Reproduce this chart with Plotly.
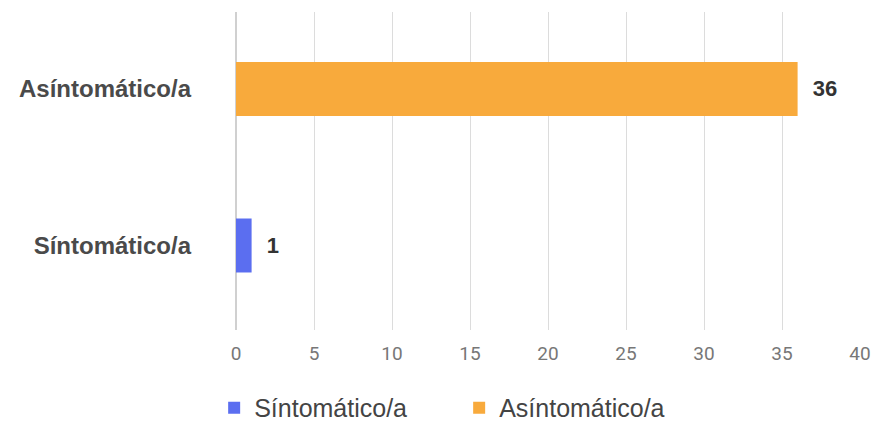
import plotly.graph_objects as go

categories = ["Síntomático/a", "Asíntomático/a"]
series_names = ["Síntomático/a", "Asíntomático/a"]
values = [1, 36]
colors = ["#5b6ef0", "#f8aa3c"]
tick_vals = [0, 5, 10, 15, 20, 25, 30, 35, 40]

fig = go.Figure()
for i, name in enumerate(series_names):
    fig.add_trace(go.Bar(
        y=[categories[i]], x=[values[i]], name=name, orientation="h",
        marker=dict(color=colors[i], line=dict(width=0)),
        text=[str(values[i])], texttemplate="  %{text}", textposition="outside",
        textfont=dict(family="Arial", size=22, color="#333333", weight="bold"),
        cliponaxis=False,
    ))

fig.update_layout(
    width=879, height=422,
    margin=dict(l=236, r=19, t=12, b=92, autoexpand=False),
    paper_bgcolor="white", plot_bgcolor="white",
    barmode="relative", bargap=0.655,
    showlegend=True,
    legend=dict(orientation="h", x=-0.035, xanchor="left", y=-0.245, yanchor="middle",
                font=dict(family="Arial", size=25, color="#444444"),
                traceorder="normal", itemwidth=30, bgcolor="rgba(0,0,0,0)",
                entrywidth=200, entrywidthmode="pixels"),
    font=dict(family="Arial"),
)
fig.update_xaxes(range=[0, 40], tickvals=tick_vals, showgrid=True, gridcolor="#dcdcdc",
                 gridwidth=1, zeroline=True, zerolinecolor="#d0d0d0", showline=False,
                 tickfont=dict(family="Roboto", size=19, color="#777777"),
                 ticks="", ticklabelstandoff=10, automargin=False)
fig.update_yaxes(categoryorder="array", categoryarray=categories, showgrid=False,
                 range=[-0.54, 1.492],
                 tickfont=dict(family="Arial", size=24, color="#4a4a4a", weight="bold"),
                 ticks="", ticklabelstandoff=44, automargin=False)

fig.write_html("out.html", config={"displayModeBar": False},
               post_script="document.body.style.margin='0';")
